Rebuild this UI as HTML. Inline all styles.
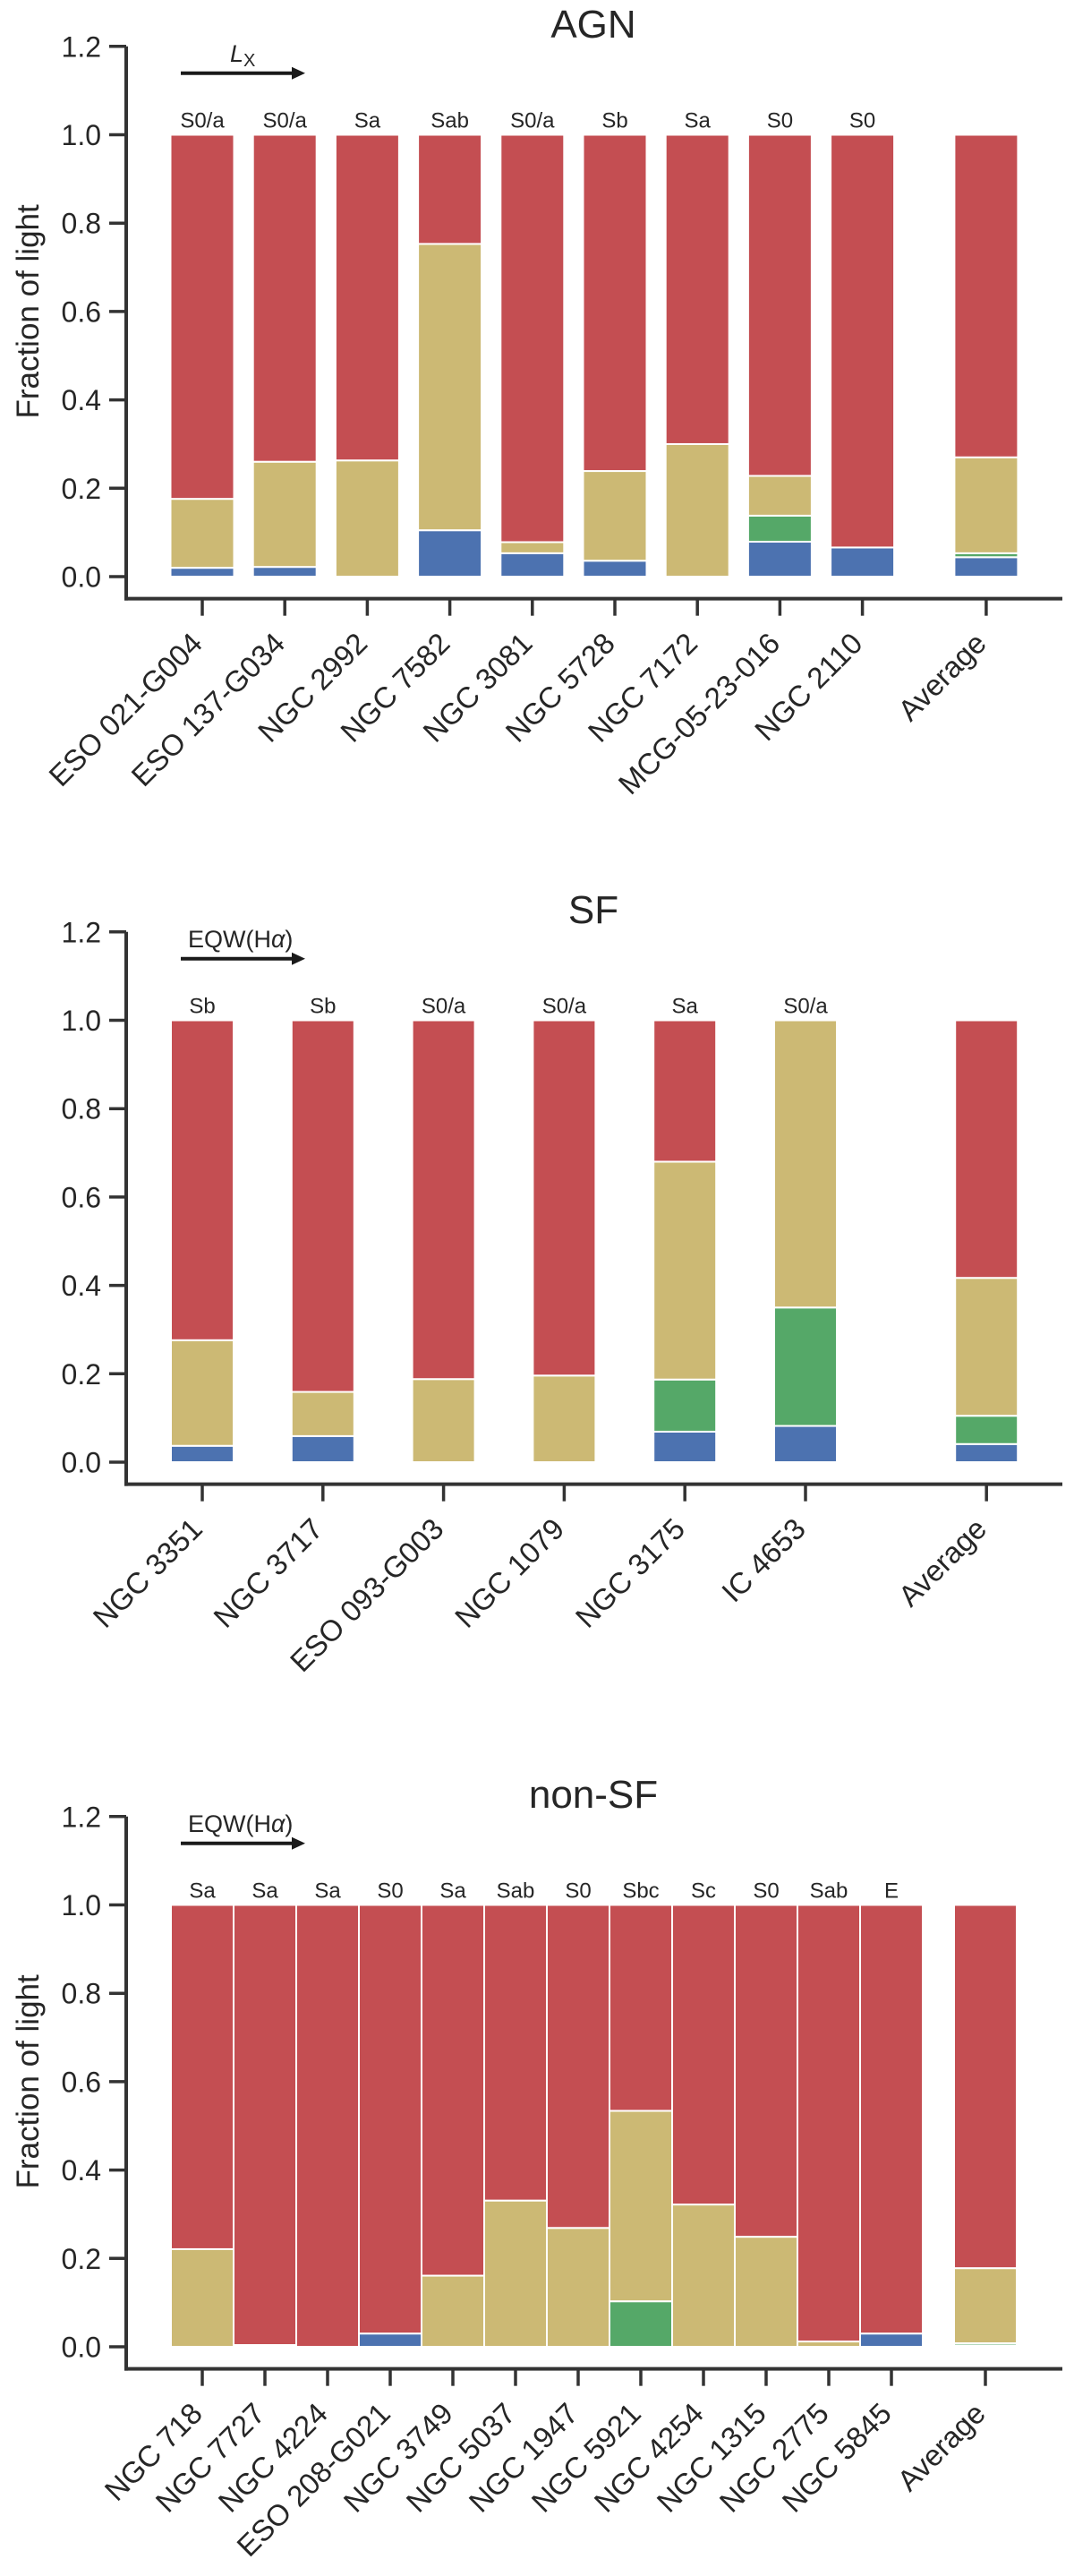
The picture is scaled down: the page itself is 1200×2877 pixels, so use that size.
<!DOCTYPE html>
<html><head><meta charset="utf-8">
<style>
html,body{margin:0;padding:0;background:#fff;}
svg{display:block;font-family:"Liberation Sans",sans-serif;}
</style></head>
<body>
<svg id="fig" width="1200" height="2877" viewBox="0 0 1200 2877" xmlns="http://www.w3.org/2000/svg"></svg>
<script>
// ---------- AGN panel data ----------
const agnNames = ["ESO 021-G004","ESO 137-G034","NGC 2992","NGC 7582","NGC 3081","NGC 5728","NGC 7172","MCG-05-23-016","NGC 2110","Average"];
const agnMorph = ["S0/a","S0/a","Sa","Sab","S0/a","Sb","Sa","S0","S0",""];
const agnSlots = [0,1,2,3,4,5,6,7,8,9.5];
const agnBlue  = [0.020,0.022,0.000,0.105,0.053,0.036,0.000,0.079,0.066,0.044];
const agnGreen = [0.000,0.000,0.000,0.000,0.000,0.000,0.000,0.059,0.000,0.009];
const agnTan   = [0.156,0.238,0.263,0.648,0.025,0.203,0.300,0.090,0.000,0.217];
const agnRed   = [0.824,0.740,0.737,0.247,0.922,0.761,0.700,0.772,0.934,0.730];

// ---------- SF panel data ----------
const sfNames = ["NGC 3351","NGC 3717","ESO 093-G003","NGC 1079","NGC 3175","IC 4653","Average"];
const sfMorph = ["Sb","Sb","S0/a","S0/a","Sa","S0/a",""];
const sfSlots = [0,1,2,3,4,5,6.5];
const sfBlue  = [0.037,0.059,0.000,0.000,0.069,0.082,0.041];
const sfGreen = [0.000,0.000,0.000,0.000,0.118,0.268,0.064];
const sfTan   = [0.239,0.100,0.188,0.196,0.493,0.650,0.312];
const sfRed   = [0.724,0.841,0.812,0.804,0.320,0.000,0.583];

// ---------- non-SF panel data ----------
const nsNames = ["NGC 718","NGC 7727","NGC 4224","ESO 208-G021","NGC 3749","NGC 5037","NGC 1947","NGC 5921","NGC 4254","NGC 1315","NGC 2775","NGC 5845","Average"];
const nsMorph = ["Sa","Sa","Sa","S0","Sa","Sab","S0","Sbc","Sc","S0","Sab","E",""];
const nsSlots = [0,1,2,3,4,5,6,7,8,9,10,11,12.5];
const nsBlue  = [0.000,0.000,0.000,0.030,0.000,0.000,0.000,0.000,0.000,0.000,0.000,0.030,0.003];
const nsGreen = [0.000,0.000,0.000,0.000,0.000,0.000,0.000,0.103,0.000,0.000,0.000,0.000,0.005];
const nsTan   = [0.221,0.004,0.000,0.000,0.161,0.331,0.269,0.431,0.322,0.249,0.012,0.000,0.170];
const nsRed   = [0.779,0.996,1.000,0.970,0.839,0.669,0.731,0.466,0.678,0.751,0.988,0.970,0.822];

const yTicks = [0.0,0.2,0.4,0.6,0.8,1.0,1.2];
const yTickLabels = ["0.0","0.2","0.4","0.6","0.8","1.0","1.2"];

const NS = "http://www.w3.org/2000/svg";
const svg = document.getElementById('fig');
const COLORS = {blue:"#4c72b0", green:"#55a868", tan:"#ccb974", red:"#c44e52"};
const TXT = "#262626", AX = "#333333";

function mk(tag, attrs, parent){
  const e = document.createElementNS(NS, tag);
  for (const k in attrs) e.setAttribute(k, attrs[k]);
  (parent||svg).appendChild(e);
  return e;
}

function panel(cfg){
  const g = mk('g', {});
  
  
  const y0 = cfg.y0, unit = 493.5;
  const yS = v => y0 - v*unit;
  const xS = s => 226 + s*cfg.step;
  const axL = 141, axR = 1187, spineY = yS(-0.05);

  // title
  const t = mk('text', {x:663, y:yS(1.2)-10, 'font-size':44, fill:TXT, 'text-anchor':'middle'}, g);
  t.textContent = cfg.title;
  
  

  // arrow + label
  const ar = mk('g', {}, g);
  
  
  const ay = yS(1.2) + 30;
  mk('line', {x1:202, y1:ay, x2:328, y2:ay, stroke:'#1a1a1a', 'stroke-width':4}, ar);
  mk('polygon', {points:`${326},${ay-7} ${341},${ay} ${326},${ay+7}`, fill:'#1a1a1a'}, ar);
  const lab = mk('text', {x:cfg.arrowLabelX, y:ay-13, 'font-size':27, fill:TXT}, ar);
  if (cfg.lx){
    lab.innerHTML = '<tspan font-style="italic">L</tspan><tspan font-size="20" dy="5">X</tspan>';
  } else {
    lab.innerHTML = 'EQW(H<tspan font-style="italic">α</tspan>)';
  }
  
  

  // bars
  const series = [['blue',cfg.blue],['green',cfg.green],['tan',cfg.tan],['red',cfg.red]];
  cfg.names.forEach((nm, i) => {
    const cx = xS(cfg.slots[i]);
    const bg = mk('g', {}, g);
    
    
    let base = 0;
    series.forEach(([c, arr]) => {
      const v = arr[i];
      if (v > 0){
        const r = mk('rect', {x:cx-cfg.w/2, y:yS(base+v), width:cfg.w, height:v*unit, fill:COLORS[c], stroke:'#fff', 'stroke-width':2}, bg);
        
        
      }
      base += v;
    });
    if (cfg.morph[i]){
      const m = mk('text', {x:cx, y:yS(1.0)-8, 'font-size':24, fill:TXT, 'text-anchor':'middle'}, g);
      m.textContent = cfg.morph[i];
      
      
    }
    // x tick
    mk('line', {x1:cx, y1:spineY, x2:cx, y2:spineY+19, stroke:AX, 'stroke-width':3.5}, g);
    const xl = mk('text', {x:cx+2, y:spineY+52, 'font-size':33, fill:TXT, 'text-anchor':'end', transform:`rotate(-45 ${cx+2} ${spineY+52})`}, g);
    xl.textContent = nm;
    
    
  });

  // axes
  const ax = mk('g', {}, g);
  
  
  mk('line', {x1:axL, y1:yS(1.2), x2:axL, y2:spineY+2, stroke:AX, 'stroke-width':4}, ax);
  mk('line', {x1:axL-2, y1:spineY, x2:axR, y2:spineY, stroke:AX, 'stroke-width':4}, ax);
  yTicks.forEach((v, k) => {
    mk('line', {x1:axL-19, y1:yS(v), x2:axL, y2:yS(v), stroke:AX, 'stroke-width':3.5}, ax);
    const tl = mk('text', {x:113, y:yS(v)+11.5, 'font-size':32, fill:TXT, 'text-anchor':'end'}, ax);
    tl.textContent = yTickLabels[k];
    
    
  });
  if (cfg.ylabel){
    const yl = mk('text', {x:43, y:yS(0.6), 'font-size':35, fill:TXT, 'text-anchor':'middle', transform:`rotate(-90 43 ${yS(0.6)})`}, ax);
    yl.textContent = 'Fraction of light';
    
    
  }
}

panel({key:'agn', title:'AGN', y0:644, step:92.2, w:71, lx:true, arrowLabelX:257, ylabel:true,
  names:agnNames, morph:agnMorph, slots:agnSlots, blue:agnBlue, green:agnGreen, tan:agnTan, red:agnRed});
panel({key:'sf', title:'SF', y0:1633, step:134.8, w:70, lx:false, arrowLabelX:210, ylabel:false,
  names:sfNames, morph:sfMorph, slots:sfSlots, blue:sfBlue, green:sfGreen, tan:sfTan, red:sfRed});
panel({key:'non-sf', title:'non-SF', y0:2621, step:70.0, w:70, lx:false, arrowLabelX:210, ylabel:true,
  names:nsNames, morph:nsMorph, slots:nsSlots, blue:nsBlue, green:nsGreen, tan:nsTan, red:nsRed});
</script>
</body></html>
